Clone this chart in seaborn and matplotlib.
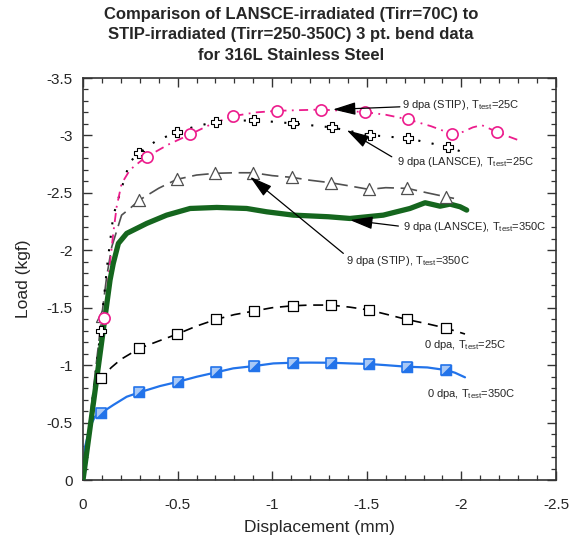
import matplotlib
matplotlib.use("Agg")
import matplotlib.pyplot as plt
from matplotlib.path import Path
from matplotlib.ticker import MultipleLocator, FuncFormatter
import seaborn as sns

# --- data (displacement mm, load kgf) ---
stip25_x = [0, -0.03, -0.07, -0.111, -0.14, -0.16, -0.178, -0.204, -0.248, -0.30, -0.337, -0.45,
            -0.566, -0.68, -0.794, -0.91, -1.024, -1.14, -1.256, -1.37, -1.49, -1.60, -1.719,
            -1.84, -1.952, -2.008, -2.06, -2.107, -2.187, -2.25, -2.301]
stip25_y = [0, -0.38, -0.88, -1.41, -1.85, -2.15, -2.38, -2.58, -2.70, -2.77, -2.814, -2.92,
            -3.009, -3.10, -3.168, -3.20, -3.214, -3.22, -3.225, -3.215, -3.203, -3.18, -3.139,
            -3.08, -3.011, -3.031, -3.07, -3.09, -3.031, -2.99, -2.959]
stip25_mx = [-0.111, -0.337, -0.566, -0.794, -1.024, -1.256, -1.49, -1.719, -1.952, -2.187]
stip25_my = [-1.41, -2.814, -3.009, -3.168, -3.214, -3.225, -3.203, -3.139, -3.011, -3.031]

lansce25_x = [0, -0.093, -0.13, -0.16, -0.196, -0.248, -0.298, -0.38, -0.495, -0.60, -0.703,
              -0.904, -1.112, -1.314, -1.517, -1.719, -1.928, -2.028]
lansce25_y = [0, -1.30, -1.90, -2.30, -2.50, -2.77, -2.849, -2.945, -3.031, -3.08, -3.119,
              -3.133, -3.104, -3.07, -3.003, -2.974, -2.90, -2.843]
lansce25_mx = [-0.093, -0.298, -0.495, -0.703, -0.904, -1.112, -1.314, -1.517, -1.719, -1.928]
lansce25_my = [-1.30, -2.849, -3.031, -3.119, -3.133, -3.104, -3.07, -3.003, -2.974, -2.90]

stip350_x = [0, -0.099, -0.125, -0.152, -0.204, -0.248, -0.298, -0.40, -0.495, -0.60, -0.698,
             -0.80, -0.90, -1.00, -1.103, -1.20, -1.309, -1.41, -1.512, -1.60, -1.714, -1.82,
             -1.917, -1.961]
stip350_y = [0, -1.427, -1.77, -2.03, -2.306, -2.364, -2.437, -2.54, -2.617, -2.655, -2.67,
             -2.675, -2.675, -2.65, -2.635, -2.61, -2.588, -2.56, -2.53, -2.545, -2.539, -2.50,
             -2.466, -2.452]
stip350_mx = [-0.099, -0.298, -0.495, -0.698, -0.90, -1.103, -1.309, -1.512, -1.714, -1.917]
stip350_my = [-1.427, -2.437, -2.617, -2.67, -2.675, -2.635, -2.588, -2.53, -2.539, -2.466]

lansce350_x = [0, -0.143, -0.160, -0.187, -0.231, -0.337, -0.442, -0.566, -0.707, -0.865, -0.971,
               -1.112, -1.297, -1.411, -1.587, -1.728, -1.808, -1.887, -1.94, -1.993, -2.028]
lansce350_y = [0, -1.741, -1.886, -2.06, -2.147, -2.234, -2.306, -2.364, -2.373, -2.364, -2.335,
               -2.306, -2.292, -2.277, -2.306, -2.364, -2.414, -2.384, -2.402, -2.379, -2.35]

zero25_x = [0, -0.072, -0.093, -0.15, -0.20, -0.298, -0.40, -0.499, -0.60, -0.703, -0.80, -0.904,
            -1.00, -1.108, -1.20, -1.309, -1.41, -1.512, -1.61, -1.71, -1.82, -1.917, -2.019]
zero25_y = [0, -0.812, -0.885, -0.98, -1.05, -1.146, -1.21, -1.271, -1.34, -1.398, -1.44, -1.471,
            -1.50, -1.517, -1.523, -1.523, -1.505, -1.48, -1.44, -1.398, -1.36, -1.323, -1.271]
zero25_mx = [-0.093, -0.298, -0.499, -0.703, -0.904, -1.108, -1.309, -1.512, -1.71, -1.917]
zero25_my = [-0.885, -1.146, -1.271, -1.398, -1.471, -1.517, -1.523, -1.48, -1.398, -1.323]

zero350_x = [0, -0.011, -0.037, -0.063, -0.093, -0.160, -0.231, -0.298, -0.407, -0.504, -0.601,
             -0.703, -0.794, -0.904, -1.006, -1.108, -1.20, -1.309, -1.41, -1.512, -1.60,
             -1.714, -1.82, -1.919, -1.966, -2.019]
zero350_y = [0, -0.29, -0.464, -0.551, -0.58, -0.653, -0.725, -0.763, -0.818, -0.856, -0.899,
             -0.937, -0.972, -0.992, -1.015, -1.021, -1.022, -1.021, -1.015, -1.01, -1.00,
             -0.986, -0.98, -0.957, -0.934, -0.894]
zero350_mx = [-0.093, -0.298, -0.504, -0.703, -0.904, -1.108, -1.309, -1.512, -1.714, -1.919]
zero350_my = [-0.58, -0.763, -0.856, -0.937, -0.992, -1.021, -1.021, -1.01, -0.986, -0.957]

title_lines = ["Comparison of LANSCE-irradiated (Tirr=70C) to",
               "STIP-irradiated (Tirr=250-350C) 3 pt. bend data",
               "for 316L Stainless Steel"]

# --- style ---
sns.set_style("ticks")
plt.rcParams['font.family'] = ['Liberation Sans', 'DejaVu Sans']
plt.rcParams['axes.unicode_minus'] = False
plt.rcParams['mathtext.fontset'] = 'custom'
plt.rcParams['mathtext.rm'] = 'Liberation Sans'
plt.rcParams['mathtext.it'] = 'Liberation Sans:italic'

MAGENTA = "#ec1c8c"
GREEN = "#15661e"
BLUE = "#2273ea"
LIGHTBLUE = "#a8c8f6"
GRAY = "#505050"

fig = plt.figure(figsize=(5.82, 5.41), dpi=100)
ax = fig.add_axes([83 / 582, 1 - 480 / 541, 473 / 582, 402 / 541])

# --- curves ---
sns.lineplot(x=zero25_x, y=zero25_y, sort=False, estimator=None, color="black",
             linewidth=1.2, linestyle=(0, (6, 4)), ax=ax, zorder=2)
sns.lineplot(x=zero350_x, y=zero350_y, sort=False, estimator=None, color=BLUE,
             linewidth=1.6, ax=ax, zorder=2)
sns.lineplot(x=stip350_x, y=stip350_y, sort=False, estimator=None, color=GRAY,
             linewidth=1.2, linestyle=(0, (10, 4)), ax=ax, zorder=2)
sns.lineplot(x=lansce25_x, y=lansce25_y, sort=False, estimator=None, color="black",
             linewidth=1.5, linestyle=(0, (1, 5.5)), ax=ax, zorder=2)
sns.lineplot(x=stip25_x, y=stip25_y, sort=False, estimator=None, color=MAGENTA,
             linewidth=1.3, linestyle=(0, (5, 3, 1, 3)), ax=ax, zorder=3)
sns.lineplot(x=lansce350_x, y=lansce350_y, sort=False, estimator=None, color=GREEN,
             linewidth=3.8, ax=ax, zorder=4)

# --- markers ---
sns.scatterplot(x=zero25_mx, y=zero25_my, marker="s", s=60, color="white",
                edgecolor="black", linewidth=0.9, ax=ax, zorder=5)
sns.scatterplot(x=zero350_mx, y=zero350_my, marker="s", s=60, color=LIGHTBLUE,
                edgecolor=BLUE, linewidth=1.2, ax=ax, zorder=5)
half = Path([(-1, -1), (1, -1), (1, 1), (-1, -1)])
sns.scatterplot(x=zero350_mx, y=zero350_my, marker=half, s=60, color=BLUE,
                edgecolor=BLUE, linewidth=0.5, ax=ax, zorder=6)
sns.scatterplot(x=stip350_mx, y=stip350_my, marker="^", s=75, color="white",
                edgecolor=GRAY, linewidth=0.9, ax=ax, zorder=5)
sns.scatterplot(x=lansce25_mx, y=lansce25_my, marker="P", s=55, color="white",
                edgecolor="black", linewidth=0.8, ax=ax, zorder=5)
sns.scatterplot(x=stip25_mx, y=stip25_my, marker="o", s=65, color="white",
                edgecolor=MAGENTA, linewidth=1.2, ax=ax, zorder=5)

# --- annotations ---
arrow = dict(arrowstyle="-|>,head_length=1.0,head_width=0.28", color="black",
             lw=0.9, shrinkA=0, shrinkB=0, mutation_scale=14)
ax.annotate("", xy=(-1.321, -3.226), xytext=(-1.675, -3.249), arrowprops=arrow, zorder=7)
ax.text(-1.686, -3.264, "9 dpa (STIP), T$_{\\rm test}$=25C", fontsize=8, va="center")
ax.annotate("", xy=(-1.394, -3.046), xytext=(-1.632, -2.814), arrowprops=arrow, zorder=7)
ax.text(-1.661, -2.770, "9 dpa (LANSCE), T$_{\\rm test}$=25C", fontsize=8, va="center")
ax.annotate("", xy=(-1.411, -2.263), xytext=(-1.667, -2.211), arrowprops=arrow, zorder=7)
ax.text(-1.690, -2.199, "9 dpa (LANSCE), T$_{\\rm test}$=350C", fontsize=8, va="center")
ax.annotate("", xy=(-0.883, -2.640), xytext=(-1.376, -1.973), arrowprops=arrow, zorder=7)
ax.text(-1.388, -1.909, "9 dpa (STIP), T$_{\\rm test}$=350C", fontsize=8, va="center")
ax.text(-1.802, -1.175, "0 dpa, T$_{\\rm test}$=25C", fontsize=8, va="center")
ax.text(-1.816, -0.748, "0 dpa, T$_{\\rm test}$=350C", fontsize=8, va="center")

# --- axes ---
ax.set_xlim(0, -2.5)
ax.set_ylim(0, -3.5)
ax.xaxis.set_major_locator(MultipleLocator(0.5))
ax.xaxis.set_minor_locator(MultipleLocator(0.1))
ax.yaxis.set_major_locator(MultipleLocator(0.5))
ax.yaxis.set_minor_locator(MultipleLocator(0.1))
fmt = FuncFormatter(lambda v, _: "0" if abs(v) < 1e-9 else f"{v:g}")
ax.xaxis.set_major_formatter(fmt)
ax.yaxis.set_major_formatter(fmt)
ax.tick_params(which="both", direction="in", top=True, right=True, color="#333333")
ax.tick_params(which="major", length=6.5, width=1.0, labelsize=11)
ax.tick_params(which="minor", length=3.5, width=0.9)
ax.tick_params(axis="x", which="major", pad=13)
ax.tick_params(axis="y", which="major", pad=7.5)
for sp in ax.spines.values():
    sp.set_color("#333333")
    sp.set_linewidth(1.2)

ax.set_xlabel("Displacement (mm)", fontsize=12.5, labelpad=6)
ax.set_ylabel("Load (kgf)", fontsize=12.5, labelpad=11)
fig.suptitle("\n".join(title_lines), x=0.5, y=1 - 7 / 541, va="top",
             fontsize=12, fontweight="bold", linespacing=1.45)

fig.savefig("out.png", dpi=100)
